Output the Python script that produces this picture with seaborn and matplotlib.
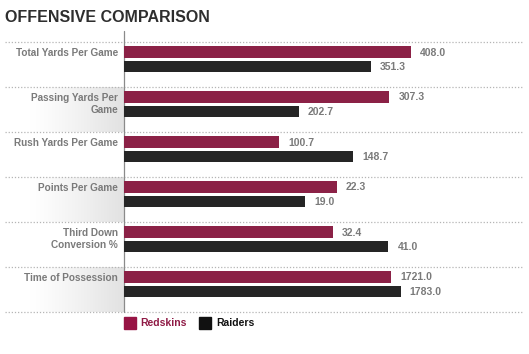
import numpy as np
import pandas as pd
import matplotlib
matplotlib.use("Agg")
import matplotlib.pyplot as plt
import matplotlib.font_manager as fm
import seaborn as sns
from matplotlib.lines import Line2D
from matplotlib.patches import Rectangle

# ---- data ----
categories = ["Total Yards Per Game", "Passing Yards Per\nGame", "Rush Yards Per Game",
              "Points Per Game", "Third Down\nConversion %", "Time of Possession"]
redskins = [408.0, 307.3, 100.7, 22.3, 32.4, 1721.0]
raiders = [351.3, 202.7, 148.7, 19.0, 41.0, 1783.0]
teams = ["Redskins", "Raiders"]
title = "OFFENSIVE COMPARISON"

# per-row scale maximum (each stat is drawn on its own scale)
row_xmax = [566.0, 461.0, 258.0, 41.7, 61.7, 2565.0]

df = pd.DataFrame({
    "category": np.repeat(categories, 2),
    "team": teams * len(categories),
    "value": [v for pair in zip(redskins, raiders) for v in pair],
})

sns.set_theme(style="white")
plt.rcParams["font.family"] = ["Liberation Sans", "DejaVu Sans"]

W, H = 529, 354
fig = plt.figure(figsize=(W / 100, H / 100), dpi=100)

colors = {"Redskins": "#8b2146", "Raiders": "#252525"}
label_col = "#7a7a7a"

def fx(px):
    return px / W

def fy(py):
    return 1 - py / H

row_top0 = 41.7
row_h = 45.0
ax_left = 124.0
ax_right = 522.0

# background gradients for alternating label cells
bg = fig.add_axes([0, 0, 1, 1], zorder=0)
bg.axis("off")
grad = np.linspace(0, 1, 256) ** 1.2
grad_img = np.ones((1, 256, 3))
for c in range(3):
    grad_img[0, :, c] = 1 - grad * (1 - 0.885)
for i in range(len(categories)):
    if i % 2 == 1:
        t = row_top0 + i * row_h
        bg.imshow(grad_img, extent=[30, ax_left, t + 45, t + 0.5], aspect="auto", zorder=0)
bg.set_xlim(0, W)
bg.set_ylim(H, 0)

# separators
for k in range(len(categories) + 1):
    y = row_top0 + k * row_h
    bg.add_line(Line2D([5, ax_right], [y, y], color="#b5b5b5", lw=0.9,
                       linestyle=(0, (1, 1.5)), zorder=1))
# vertical axis line
bg.add_line(Line2D([ax_left, ax_left], [31, row_top0 + 6 * row_h], color="#8a8a8a", lw=0.9, zorder=3))

# title
fig.text(fx(5), fy(22.5), title, fontsize=11.5, fontweight="bold",
         family=["Liberation Sans", "DejaVu Sans"], color="#2e2e2e", va="baseline", ha="left")

px_per_unit = 36.25
for i, cat in enumerate(categories):
    top = row_top0 + i * row_h
    ax = fig.add_axes([fx(ax_left), fy(top + row_h), fx(ax_right - ax_left), row_h / H], zorder=2)
    sub = df[df["category"] == cat]
    sns.barplot(data=sub, y="category", x="value", hue="team", hue_order=teams,
                palette=colors, orient="h", width=0.8, gap=0.2, legend=False,
                ax=ax, saturation=1, linewidth=0)
    ytop = -0.2 - 10.3 / px_per_unit
    ax.set_ylim(ytop + row_h / px_per_unit, ytop)
    ax.set_xlim(0, row_xmax[i])
    ax.axis("off")
    ax.patch.set_alpha(0)
    for bar, val in zip(ax.patches, [redskins[i], raiders[i]]):
        ax.annotate(f"{val:.1f}", (bar.get_width(), bar.get_y() + bar.get_height() / 2),
                    xytext=(9, -0.5), textcoords="offset pixels",
                    ha="left", va="center", fontsize=7.5, fontweight="bold", color=label_col)
    # category label
    fig.text(fx(118), fy(top + 6.0), cat, ha="right", va="top", fontsize=7.2,
             fontweight="bold", color=label_col, linespacing=1.25)

# legend
bg.add_patch(Rectangle((124, 317.3), 11.5, 11.5, color="#971444", zorder=3))
bg.text(140, 323.5, "Redskins", fontsize=7.5, fontweight="bold", color="#8f1a45", va="center", ha="left")
bg.add_patch(Rectangle((199, 317.3), 11.5, 11.5, color="#111111", zorder=3))
bg.text(216, 323.5, "Raiders", fontsize=7.5, fontweight="bold", color="#111111", va="center", ha="left")

fig.savefig("out.png", dpi=100)
